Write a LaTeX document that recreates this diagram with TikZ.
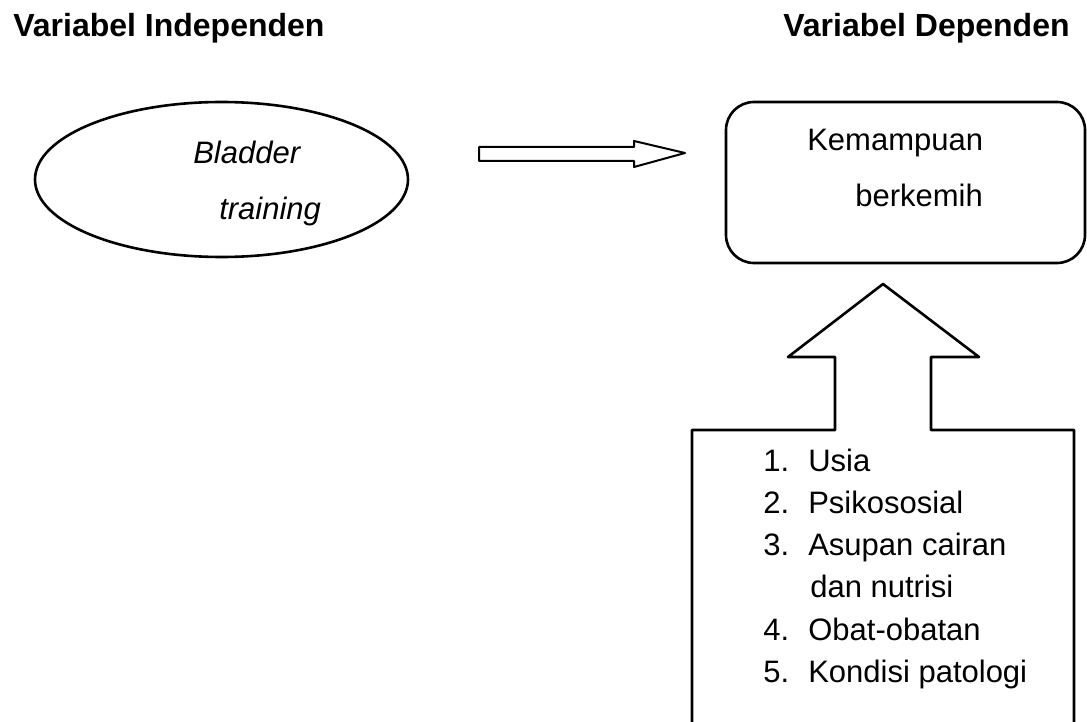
\documentclass[tikz,border=0pt]{standalone}
\usepackage{fontspec}
\setmainfont{Liberation Sans}
\usetikzlibrary{shapes.geometric}
\begin{document}
\begin{tikzpicture}[x=1pt,y=-1pt,line width=2.6pt,
  txt/.style={anchor=base west,inner sep=0pt,font=\fontsize{31}{37}\selectfont},
  itxt/.style={txt,font=\fontsize{31}{37}\selectfont\itshape},
  hdr/.style={txt,font=\fontsize{32}{37}\selectfont\bfseries},
  shapeline/.style={draw=black,line join=round}]
\useasboundingbox (0,0) rectangle (1087,722);
% headers
\node[hdr] (hind) at (12,37) {Variabel Independen};
\node[hdr] (hdep) at (782,37) {Variabel Dependen};
% ellipse
\node[shapeline,ellipse,minimum width=373pt,minimum height=155pt,inner sep=0pt] (ell) at (221.5,179.5) {};
\node[itxt] (bl1) at (192,164) {Bladder};
\node[itxt] (bl2) at (218,220) {training};
% rounded box
\node[shapeline,rounded corners=28pt,minimum width=359pt,minimum height=161pt,inner sep=0pt] (kb) at (905.5,182.5) {};
\node[txt] (kb1) at (806,151) {Kemampuan};
\node[txt] (kb2) at (854,207) {berkemih};
% horizontal block arrow
\draw[shapeline,line width=2pt] (479,147) -- (634,147) -- (634,141) -- (685,153) -- (634,167) -- (634,161) -- (479,161) -- cycle;
% up arrow with factor box
\begin{scope}
\clip (0,0) rectangle (1087,722);
\draw[shapeline] (692,745) -- (692,430) -- (835,430) -- (835,357) -- (788,357) -- (883,284) -- (979,357) -- (931,357) -- (931,430) -- (1074,430) -- (1074,745);
\end{scope}
% list
\node[txt] (n1) at (762,471) {1.};
\node[txt] (l1) at (807,471) {Usia};
\node[txt] (n2) at (762,513) {2.};
\node[txt] (l2) at (807,513) {Psikososial};
\node[txt] (n3) at (762,555) {3.};
\node[txt] (l3) at (807,555) {Asupan cairan};
\node[txt] (l3b) at (809,597) {dan nutrisi};
\node[txt] (n4) at (762,640) {4.};
\node[txt] (l4) at (807,640) {Obat-obatan};
\node[txt] (n5) at (762,682) {5.};
\node[txt] (l5) at (807,682) {Kondisi patologi};
\end{tikzpicture}
\end{document}
